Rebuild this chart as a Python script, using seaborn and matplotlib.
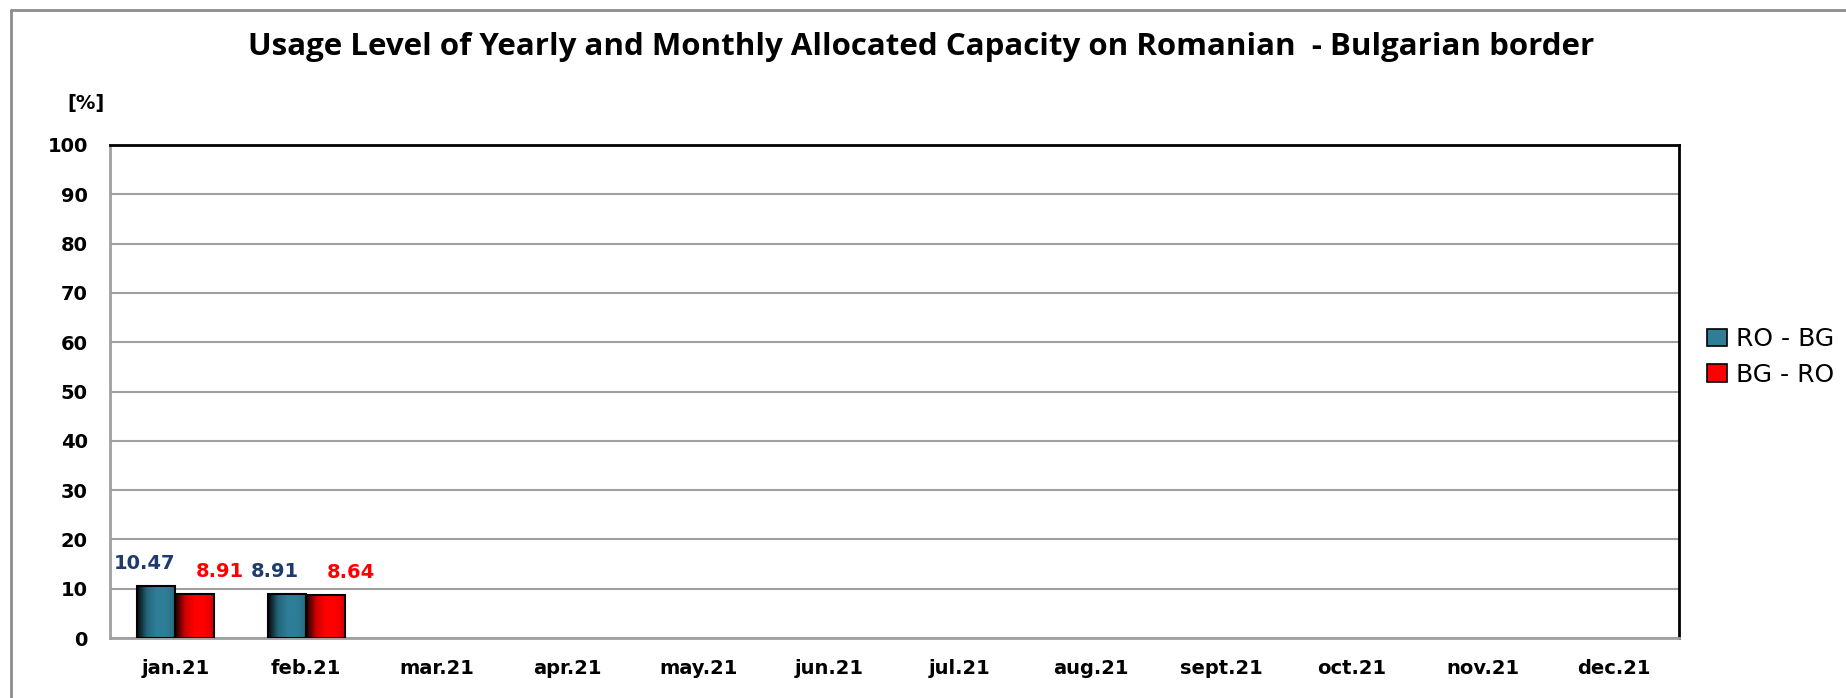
import numpy as np
import pandas as pd
import seaborn as sns
import matplotlib.pyplot as plt
from matplotlib.colors import LinearSegmentedColormap, to_rgb
from matplotlib.patches import Patch
from matplotlib.lines import Line2D

months = ['jan.21', 'feb.21', 'mar.21', 'apr.21', 'may.21', 'jun.21',
          'jul.21', 'aug.21', 'sept.21', 'oct.21', 'nov.21', 'dec.21']
ro_bg = [10.47, 8.91]
bg_ro = [8.91, 8.64]
series = ['RO - BG', 'BG - RO']
colors = ['#2E7E98', '#FF0000']
label_colors = ['#1F3B6E', '#FF0000']

df = pd.DataFrame({
    'month': months[:len(ro_bg)] + months[:len(bg_ro)],
    'value': ro_bg + bg_ro,
    'direction': [series[0]] * len(ro_bg) + [series[1]] * len(bg_ro),
})

sns.set_style('white')
plt.rcParams['font.family'] = ['DejaVu Sans']
plt.rcParams['text.color'] = 'black'
plt.rcParams['xtick.labelcolor'] = 'black'
plt.rcParams['ytick.labelcolor'] = 'black'

fig = plt.figure(figsize=(18.46, 6.98), dpi=100)
ax = fig.add_axes([110 / 1846, 1 - 638 / 698, (1679 - 110) / 1846, (638 - 145) / 698])

sns.barplot(data=df, x='month', y='value', hue='direction', order=months,
            hue_order=series, palette=colors, width=0.59, gap=0,
            edgecolor='black', linewidth=1.5, legend=False, ax=ax, zorder=3)

# gradient fill, dark on the left
for cont, col in zip(ax.containers, colors):
    c = np.array(to_rgb(col))
    cmap = LinearSegmentedColormap.from_list('g', [c * 0.08, c * 0.8, c, c, c * 0.85])
    grad = np.linspace(0, 1, 64).reshape(1, -1)
    for p in cont.patches:
        x0, y0 = p.get_x(), p.get_y()
        w, h = p.get_width(), p.get_height()
        if not np.isfinite(h) or h == 0:
            continue
        im = ax.imshow(grad, cmap=cmap, aspect='auto', extent=[x0, x0 + w, y0, y0 + h],
                       zorder=3.5, interpolation='bicubic')
        im.set_clip_path(p)
        p.set_facecolor('none')
        p.set_zorder(4)

ax.set_xlim(-0.5, len(months) - 0.5)
ax.set_ylim(0, 100)

# value labels
offsets = [-12, 25]
for cont, lc, dx in zip(ax.containers, label_colors, offsets):
    for p in cont.patches:
        h = p.get_height()
        if not np.isfinite(h) or h == 0:
            continue
        ax.annotate(f'{h:.2f}', (p.get_x() + p.get_width() / 2, h),
                    xytext=(dx, 13), textcoords='offset pixels',
                    ha='center', va='bottom', fontsize=14, fontweight='bold', color=lc)

ax.set_yticks(range(0, 101, 10))
ax.yaxis.grid(True, color='#A0A0A0', linewidth=1.5, zorder=0)
ax.set_axisbelow(True)
ax.tick_params(axis='y', direction='out', length=7, width=1.5, color='#A0A0A0',
               labelsize=14, pad=9)
for t in ax.get_yticklabels():
    t.set_fontweight('bold')

ax.set_xticks(range(len(months)))
ax.set_xticklabels(months, fontsize=14, fontweight='bold')
ax.set_xticks(np.arange(-0.5, len(months), 1), minor=True)
ax.tick_params(axis='x', which='major', length=0, pad=15)
ax.tick_params(axis='x', which='minor', direction='out', length=6, width=1.5, color='#A0A0A0')
ax.set_xlabel('')
ax.set_ylabel('')

for side in ['left', 'bottom']:
    ax.spines[side].set_color('#A0A0A0')
    ax.spines[side].set_linewidth(2)
for side in ['top', 'right']:
    ax.spines[side].set_color('black')
    ax.spines[side].set_linewidth(2)
    ax.spines[side].set_visible(True)

fig.text(86 / 1846, 1 - 104 / 698, '[%]', ha='center', va='center',
         fontsize=14, fontweight='bold')
fig.text(921 / 1846, 1 - 47 / 698,
         'Usage Level of Yearly and Monthly Allocated Capacity on Romanian  - Bulgarian border',
         ha='center', va='center', fontsize=22.5, fontweight='bold', family='Open Sans')

handles = [Patch(facecolor=c, edgecolor='black', linewidth=1.2) for c in colors]
fig.legend(handles, series, loc='center left', bbox_to_anchor=(1684 / 1846, 1 - 357 / 698),
           frameon=False, fontsize=18, handlelength=0.8, handleheight=0.7,
           handletextpad=0.4, labelspacing=0.45)

# outer chart border
fig.add_artist(Line2D([11 / 1846, 11 / 1846], [0, 1 - 10 / 698], color='#8C8C8C', linewidth=2))
fig.add_artist(Line2D([11 / 1846, 1], [1 - 10 / 698, 1 - 10 / 698], color='#8C8C8C', linewidth=2))

fig.savefig('out.png', dpi=100)
